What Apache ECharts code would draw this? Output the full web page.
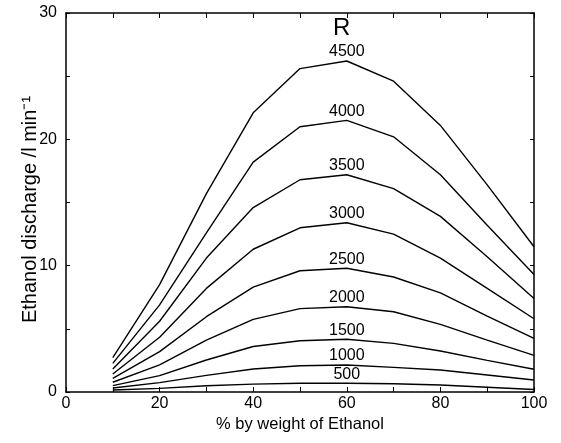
<!DOCTYPE html>
<html>
<head>
<meta charset="utf-8">
<script src="https://cdn.jsdelivr.net/npm/echarts@6/dist/echarts.min.js"></script>
<style>
  html, body { margin: 0; padding: 0; background: #fff; }
  #chart { width: 561px; height: 443px; }
</style>
</head>
<body>
<div id="chart"></div>
<script>
// % by weight of ethanol
var ethanolPct = [10, 20, 30, 40, 50, 60, 70, 80, 90, 100];

// ethanol discharge (l/min) for each R value
var r500  = [0.16, 0.29, 0.50, 0.62, 0.69, 0.69, 0.65, 0.55, 0.38, 0.20];
var r1000 = [0.32, 0.74, 1.32, 1.82, 2.08, 2.14, 1.95, 1.74, 1.35, 0.95];
var r1500 = [0.50, 1.30, 2.53, 3.60, 4.06, 4.17, 3.85, 3.25, 2.50, 1.80];
var r2000 = [0.77, 2.14, 4.10, 5.75, 6.60, 6.75, 6.35, 5.35, 4.10, 2.90];
var r2500 = [1.08, 3.20, 5.96, 8.30, 9.60, 9.80, 9.10, 7.85, 6.00, 4.25];
var r3000 = [1.42, 4.33, 8.20, 11.3, 13.0, 13.4, 12.5, 10.6, 8.20, 5.80];
var r3500 = [1.82, 5.60, 10.6, 14.6, 16.8, 17.2, 16.1, 13.9, 10.7, 7.40];
var r4000 = [2.27, 6.90, 12.6, 18.2, 21.0, 21.5, 20.2, 17.2, 13.2, 9.30];
var r4500 = [2.72, 8.50, 15.7, 22.1, 25.6, 26.2, 24.6, 21.1, 16.4, 11.5];

var rNames = ['500', '1000', '1500', '2000', '2500', '3000', '3500', '4000', '4500'];
var rValues = [r500, r1000, r1500, r2000, r2500, r3000, r3500, r4000, r4500];

var xTicks = [0, 20, 40, 60, 80, 100];
var yTicks = [0, 10, 20, 30];

var font = 'Liberation Sans, Arial, Helvetica, sans-serif';

var series = rNames.map(function (name, i) {
  return {
    name: name,
    type: 'line',
    symbol: 'circle',
    symbolSize: 0,
    showSymbol: true,
    lineStyle: { color: '#000', width: 1.4 },
    itemStyle: { color: '#000' },
    data: ethanolPct.map(function (x, j) { return [x, rValues[i][j]]; }),
    label: {
      show: true,
      position: 'top',
      distance: 1,
      offset: [-11, 0],
      color: '#000',
      fontFamily: font,
      fontSize: 16,
      formatter: function (p) { return p.data[0] === 60 ? name : ''; }
    },
    labelLayout: { hideOverlap: false },
    silent: true,
    animation: false
  };
});

var chart = echarts.init(document.getElementById('chart'));
chart.setOption({
  animation: false,
  grid: { left: 66, right: 27, top: 13, bottom: 51 },
  graphic: [{
    type: 'text',
    left: 333,
    top: 16,
    style: { text: 'R', fontSize: 24, fontFamily: font, fill: '#000' }
  }],
  xAxis: [{
    type: 'value',
    min: 0, max: 100, interval: 10,
    name: '% by weight of Ethanol',
    nameLocation: 'middle',
    nameGap: 24,
    nameMoveOverlap: false,
    nameTextStyle: { color: '#000', fontSize: 16.5, fontFamily: font },
    axisLine: { show: true, onZero: false, lineStyle: { color: '#000', width: 1.5 } },
    axisTick: { show: true, inside: true, length: 5, lineStyle: { color: '#000' } },
    axisLabel: {
      color: '#000', fontSize: 16, fontFamily: font, margin: 4,
      formatter: function (v) { return xTicks.indexOf(v) >= 0 ? String(v) : ''; }
    },
    splitLine: { show: false }
  }, {
    type: 'value', position: 'top',
    min: 0, max: 100, interval: 10,
    axisLine: { show: true, onZero: false, lineStyle: { color: '#000', width: 1.5 } },
    axisTick: { show: true, inside: true, length: 5, lineStyle: { color: '#000' } },
    axisLabel: { show: false },
    splitLine: { show: false }
  }],
  yAxis: [{
    type: 'value',
    min: 0, max: 30, interval: 5,
    name: 'Ethanol discharge /l min\u207B\u00B9',
    nameLocation: 'middle',
    nameRotate: 90,
    nameGap: 26,
    nameMoveOverlap: false,
    nameTextStyle: { color: '#000', fontSize: 20, fontFamily: font, padding: [0, 14, 0, 0] },
    axisLine: { show: true, onZero: false, lineStyle: { color: '#000', width: 1.5 } },
    axisTick: { show: true, inside: true, length: 4, lineStyle: { color: '#000' } },
    axisLabel: {
      color: '#000', fontSize: 16, fontFamily: font, margin: 9,
      formatter: function (v) { return yTicks.indexOf(v) >= 0 ? String(v) : ''; }
    },
    splitLine: { show: false }
  }, {
    type: 'value', position: 'right',
    min: 0, max: 30, interval: 5,
    axisLine: { show: true, onZero: false, lineStyle: { color: '#000', width: 1.5 } },
    axisTick: { show: true, inside: true, length: 4, lineStyle: { color: '#000' } },
    axisLabel: { show: false },
    splitLine: { show: false }
  }],
  series: series
});
</script>
</body>
</html>
